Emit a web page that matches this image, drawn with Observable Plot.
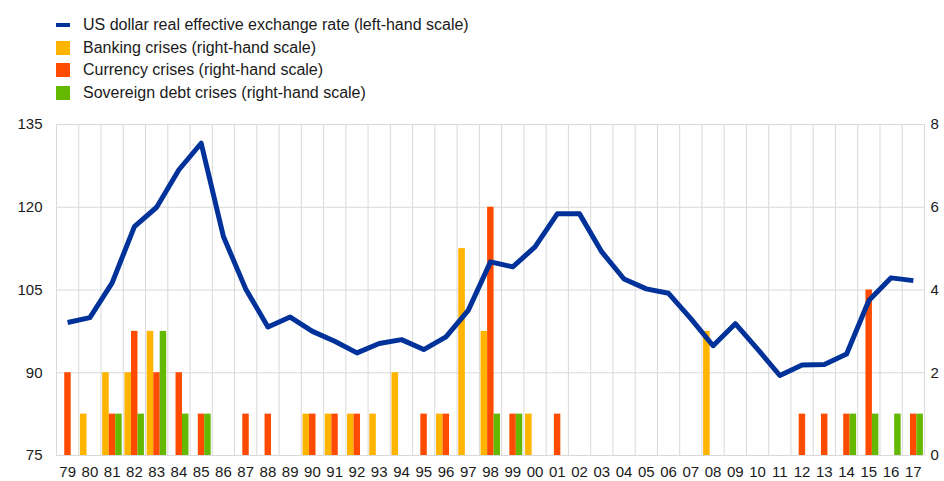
<!DOCTYPE html>
<html>
<head>
<meta charset="utf-8">
<script src="https://cdn.jsdelivr.net/npm/d3@7"></script>
<script src="https://cdn.jsdelivr.net/npm/@observablehq/plot@0.6"></script>
<style>
  body { margin: 0; background: #fff; font-family: "Liberation Sans", Arial, sans-serif; }
  #legend { height: 110px; box-sizing: border-box; padding-top: 14px; padding-left: 56px; }
  .row { display: flex; align-items: center; height: 22.6px; font-size: 16px; color: #1a1a1a; }
  .sw { width: 14px; height: 14px; margin-right: 13px; }
  .sw.line { height: 4px; }
</style>
</head>
<body>
<div id="legend"></div>
<div id="chart"></div>
<script>
const years = d3.range(1979, 2018);
const yearLabels = ["79","80","81","82","83","84","85","86","87","88","89","90","91","92","93","94","95","96","97","98","99","00","01","02","03","04","05","06","07","08","09","10","11","12","13","14","15","16","17"];
const reer = [99.1,100.0,106.3,116.5,120.0,126.8,131.6,114.7,105.2,98.3,100.1,97.5,95.7,93.6,95.3,96.0,94.2,96.5,101.3,110.1,109.2,112.8,118.8,118.8,111.9,107.0,105.2,104.4,99.8,94.9,98.9,94.3,89.5,91.4,91.5,93.4,103.1,107.2,106.7];
const banking   = [0,1,2,2,3,0,0,0,0,0,0,1,1,1,1,2,0,1,5,3,0,1,0,0,0,0,0,0,0,3,0,0,0,0,0,0,0,0,0];
const currency  = [2,0,1,3,2,2,1,0,1,1,0,1,1,1,0,0,1,1,0,6,1,0,1,0,0,0,0,0,0,0,0,0,0,1,1,1,4,0,1];
const sovereign = [0,0,1,1,3,1,1,0,0,0,0,0,0,0,0,0,0,0,0,1,1,0,0,0,0,0,0,0,0,0,0,0,0,0,0,1,1,1,1];

const seriesNames = ["Banking crises (right-hand scale)", "Currency crises (right-hand scale)", "Sovereign debt crises (right-hand scale)"];
const lineName = "US dollar real effective exchange rate (left-hand scale)";
const colors = { line: "#003299", banking: "#FFB400", currency: "#FF4B00", sovereign: "#65B800" };

// legend
const legend = document.getElementById("legend");
[[lineName, colors.line, true], [seriesNames[0], colors.banking], [seriesNames[1], colors.currency], [seriesNames[2], colors.sovereign]].forEach(([t, c, isLine]) => {
  const r = document.createElement("div"); r.className = "row";
  const s = document.createElement("div"); s.className = "sw" + (isLine ? " line" : ""); s.style.background = c;
  const l = document.createElement("span"); l.textContent = t;
  r.appendChild(s); r.appendChild(l); legend.appendChild(r);
});

// right-hand scale 0..8 mapped onto left-hand 75..135
const toLeft = v => 75 + v * 7.5;
const slots = [
  { key: "banking", vals: banking, a: 0.075, b: 0.37 },
  { key: "currency", vals: currency, a: 0.37, b: 0.66 },
  { key: "sovereign", vals: sovereign, a: 0.66, b: 0.95 }
];
const bars = [];
slots.forEach(s => years.forEach((y, i) => { if (s.vals[i] > 0) bars.push({ year: y, n: s.vals[i], type: s.key, a: s.a, b: s.b }); }));
const lineData = years.map((y, i) => ({ year: y, v: reer[i] }));
const bounds = years.map(y => y - 0.5).concat([years[years.length - 1] + 0.5]);

const chart = Plot.plot({
  width: 944,
  height: 371,
  marginTop: 14,
  marginBottom: 26,
  marginLeft: 56,
  marginRight: 20,
  style: { fontFamily: "'Liberation Sans', Arial, sans-serif", fontSize: "15px", color: "#1a1a1a", background: "#fff" },
  x: { type: "linear", domain: [1978.5, 2017.5] },
  y: { domain: [75, 135] },
  marks: [
    Plot.ruleY([75, 90, 105, 120, 135], { stroke: "#d9d9d9", strokeWidth: 1 }),
    Plot.ruleX(bounds, { stroke: "#d9d9d9", strokeWidth: 1 }),
    Plot.rectY(bars, {
      x1: d => d.year - 0.5 + d.a,
      x2: d => d.year - 0.5 + d.b,
      y1: 75,
      y2: d => toLeft(d.n),
      fill: d => colors[d.type]
    }),
    Plot.line(lineData, { x: "year", y: "v", stroke: colors.line, strokeWidth: 5, strokeLinejoin: "round", strokeLinecap: "butt" }),
    Plot.axisY({ ticks: [75, 90, 105, 120, 135], tickSize: 0, tickPadding: 14, label: null, fontSize: 15 }),
    Plot.axisY({ anchor: "right", ticks: [75, 90, 105, 120, 135], tickFormat: d => String((d - 75) / 7.5), tickSize: 0, tickPadding: 6, label: null, textAnchor: "start", fontSize: 15 }),
    Plot.axisX({ ticks: years, tickFormat: (d, i) => yearLabels[years.indexOf(d)], tickSize: 0, tickPadding: 11, label: null, fontSize: 15 })
  ]
});
document.getElementById("chart").appendChild(chart);
</script>
</body>
</html>
